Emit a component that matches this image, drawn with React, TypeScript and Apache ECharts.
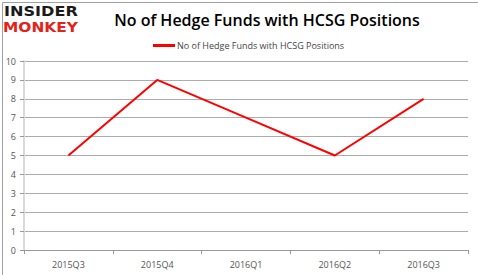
import React, { useEffect, useRef } from "react";
import * as echarts from "echarts";

const categories = ["2015Q3", "2015Q4", "2016Q1", "2016Q2", "2016Q3"];
const fundCounts = [5, 9, 7, 5, 8];
const seriesName = "No of Hedge Funds with HCSG Positions";
const titleText = "No of Hedge Funds with HCSG Positions";

export default function App() {
  const ref = useRef<HTMLDivElement>(null);
  useEffect(() => {
    const chart = echarts.init(ref.current!, null, { renderer: "svg" });
    chart.setOption({
      animation: false,
      backgroundColor: "#ffffff",
      title: {
        text: titleText,
        left: 262,
        top: 7,
        textAlign: "center",
        textStyle: { fontFamily: "Open Sans", fontSize: 16, fontWeight: 600, color: "#000" },
      },
      legend: {
        top: 36,
        left: 148,
        itemWidth: 22,
        itemHeight: 3,
        itemGap: 0,
        icon: "rect",
        textStyle: { fontFamily: "Open Sans", fontSize: 9, color: "#444", padding: [0, 0, 0, -3] },
        data: [{ name: seriesName }],
      },
      grid: { left: 24, right: 10, top: 61, bottom: 25 },
      xAxis: {
        type: "category",
        data: categories,
        boundaryGap: true,
        axisLine: { lineStyle: { color: "#999", width: 1 } },
        axisTick: { show: true, length: 4, lineStyle: { color: "#999" } },
        axisLabel: { fontFamily: "Open Sans", fontSize: 9, color: "#555", margin: 10 },
      },
      yAxis: {
        type: "value",
        min: 0,
        max: 10,
        interval: 1,
        axisLine: { show: true, lineStyle: { color: "#d9d9d9", width: 2 } },
        axisTick: { show: true, length: 4, lineStyle: { color: "#999" } },
        axisLabel: { fontFamily: "Open Sans", fontSize: 9, color: "#555", margin: 8 },
        splitLine: { lineStyle: { color: "#acacac", width: 1 } },
      },
      series: [
        {
          name: seriesName,
          type: "line",
          data: fundCounts,
          symbol: "none",
          lineStyle: { color: "#ff0000", width: 2 },
          itemStyle: { color: "#ff0000" },
        },
      ],
      graphic: [
        {
          type: "rect",
          left: 0,
          top: 0,
          shape: { width: 477, height: 274 },
          style: { fill: "none", stroke: "#a0a0a0", lineWidth: 1 },
          z: 100,
        },
        {
          type: "text",
          x: 4,
          y: 4,
          scaleX: 1.15,
          style: {
            text: "INSIDER",
            fontFamily: "DejaVu Sans",
            fontWeight: 900,
            fontSize: 14,
            lineHeight: 14,
            fill: "#1a1a1a",
          },
        },
        {
          type: "text",
          x: 3,
          y: 20,
          scaleX: 1.1,
          style: {
            text: "MONKEY",
            fontFamily: "DejaVu Sans",
            fontWeight: 900,
            fontSize: 14,
            lineHeight: 14,
            fill: "#e2231a",
          },
        },
      ],
    });
    return () => chart.dispose();
  }, []);
  return <div ref={ref} style={{ width: 478, height: 275, position: "absolute", left: 0, top: 0 }} />;
}
